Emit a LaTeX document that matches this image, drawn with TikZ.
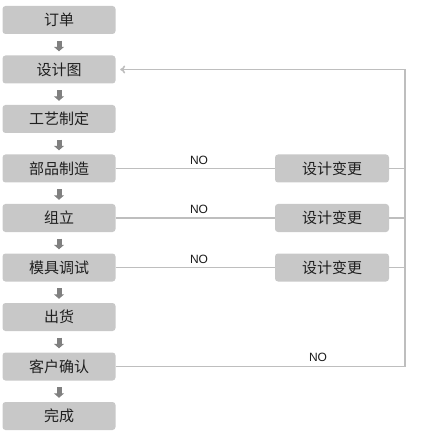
\documentclass[tikz,border=0pt]{standalone}
\usepackage{fontspec}
\setmainfont{Liberation Sans}
\newfontfamily\cjk{Noto Sans CJK SC}
\usetikzlibrary{arrows.meta}
\definecolor{boxgray}{HTML}{C8C8C8}
\definecolor{linegray}{HTML}{BEBEBE}
\definecolor{arrowgray}{HTML}{808080}

\begin{document}
\begin{tikzpicture}[
  x=1pt,y=1pt,
  stepbox/.style={fill=boxgray,rounded corners=3pt,minimum width=113pt,minimum height=28pt,inner sep=0pt,font=\cjk\fontsize{15}{17}\selectfont,text=black!88},
  changebox/.style={stepbox,minimum width=114pt},
  blk/.style={draw=arrowgray,line width=5pt,-{Triangle[width=10pt,length=4.5pt]}},
  link/.style={draw=linegray,line width=1.6pt},
  nolabel/.style={font=\fontsize{12}{14}\selectfont,text=black!90},
]
\useasboundingbox (0,0) rectangle (435,-435);
% main flow
\node[stepbox] (order) at (59,-20) {订单};
\node[stepbox] (design) at (59,-69.5) {设计图};
\node[stepbox] (process) at (59,-119) {工艺制定};
\node[stepbox] (parts) at (59,-168.5) {部品制造};
\node[stepbox] (assy) at (59,-218) {组立};
\node[stepbox] (mold) at (59,-267.5) {模具调试};
\node[stepbox] (ship) at (59,-317) {出货};
\node[stepbox] (confirm) at (59,-366.5) {客户确认};
\node[stepbox] (done) at (59,-416) {完成};
\foreach \a/\b in {order/design,design/process,process/parts,parts/assy,assy/mold,mold/ship,ship/confirm,confirm/done}{
  \draw[blk] ([yshift=-6.5pt]\a.south) -- ([yshift=4pt]\b.north);
}
% design changes
\node[changebox] (chg1) at (332,-168.5) {设计变更};
\node[changebox] (chg2) at (332,-218) {设计变更};
\node[changebox] (chg3) at (332,-267.5) {设计变更};
\coordinate (corner) at (405,-69.5);
\draw[link] (parts.east) -- (chg1.west);
\draw[link] (assy.east) -- (chg2.west);
\draw[link] (mold.east) -- (chg3.west);
\draw[link] (chg1.east) -- (chg1.east -| corner);
\draw[link] (chg2.east) -- (chg2.east -| corner);
\draw[link] (chg3.east) -- (chg3.east -| corner);
\draw[link,-{To[length=5pt,width=8pt]}] (confirm.east) -| (corner) -- ([xshift=4.5pt]design.east);
\node[nolabel] (no1) at (199,-160) {NO};
\node[nolabel] (no2) at (199,-209.5) {NO};
\node[nolabel] (no3) at (199,-259) {NO};
\node[nolabel] (no4) at (318,-357.5) {NO};
\end{tikzpicture}
\end{document}
